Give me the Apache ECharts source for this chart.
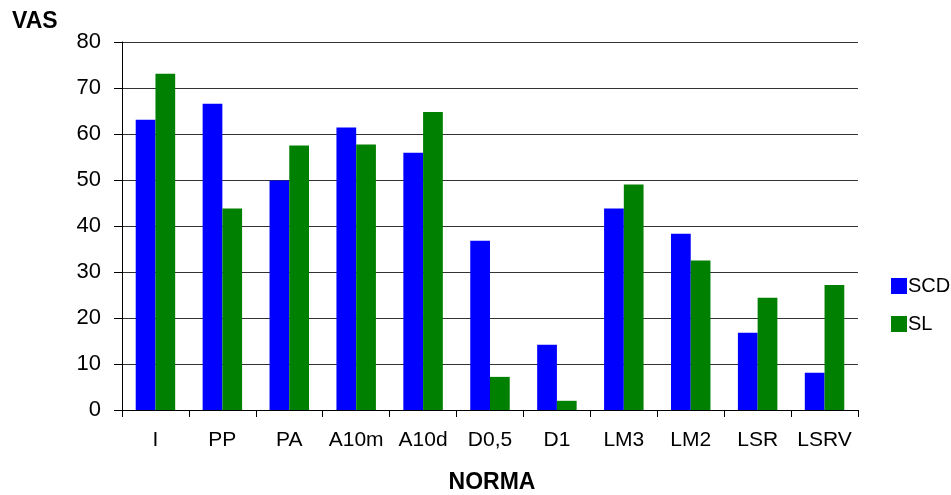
<!DOCTYPE html>
<html>
<head>
<meta charset="utf-8">
<script src="https://cdn.jsdelivr.net/npm/echarts@6/dist/echarts.min.js"></script>
<style>
  html, body { margin: 0; padding: 0; background: #fff; }
  #chart { width: 951px; height: 495px; }
</style>
</head>
<body>
<div id="chart"></div>
<script>
// Categories and VAS scores per group
const categories = ['I', 'PP', 'PA', 'A10m', 'A10d', 'D0,5', 'D1', 'LM3', 'LM2', 'LSR', 'LSRV'];
const scdValues = [63.1, 66.6, 49.9, 61.4, 55.9, 36.8, 14.2, 43.8, 38.3, 16.8, 8.1];
const slValues  = [73.1, 43.8, 57.5, 57.7, 64.8, 7.2, 2.0, 49.0, 32.5, 24.4, 27.2];
const yTicks = [0, 10, 20, 30, 40, 50, 60, 70, 80];

const chart = echarts.init(document.getElementById('chart'), null, { renderer: 'canvas' });
const font = 'Liberation Sans, Arial, sans-serif';

chart.setOption({
  animation: false,
  backgroundColor: '#ffffff',
  textStyle: { fontFamily: font },
  grid: { left: 122, right: 93, top: 42, bottom: 85, containLabel: false },
  legend: {
    orient: 'vertical',
    left: 886,
    top: 271,
    itemWidth: 16,
    itemHeight: 16,
    itemGap: 18,
    icon: 'rect',
    textStyle: { fontFamily: font, fontSize: 20, color: '#000', padding: [0, 0, 6, -4] },
    data: ['SCD', 'SL']
  },
  graphic: [
    { type: 'text', x: 12, y: 10, style: { text: 'VAS', font: 'bold 23px ' + font, fill: '#000', textAlign: 'left', textVerticalAlign: 'top' } },
    { type: 'text', x: 492, y: 471, style: { text: 'NORMA', font: 'bold 23px ' + font, fill: '#000', textAlign: 'center', textVerticalAlign: 'top' } }
  ],
  xAxis: {
    type: 'category',
    data: categories,
    axisLine: { lineStyle: { color: '#000', width: 1 } },
    axisTick: { show: true, alignWithLabel: false, length: 7, lineStyle: { color: '#000' } },
    axisLabel: { fontFamily: font, fontSize: 21, color: '#000', margin: 20, interval: 0 }
  },
  yAxis: {
    type: 'value',
    min: yTicks[0],
    max: yTicks[yTicks.length - 1],
    interval: 10,
    axisLine: { show: true, lineStyle: { color: '#000', width: 1 } },
    axisTick: { show: true, length: 8, lineStyle: { color: '#000' } },
    axisLabel: { fontFamily: font, fontSize: 22, color: '#000', margin: 21, verticalAlign: 'middle', padding: [0, 0, 5, 0] },
    splitLine: { show: true, lineStyle: { color: '#333', width: 1 } }
  },
  series: [
    {
      name: 'SCD',
      type: 'bar',
      data: scdValues,
      itemStyle: { color: '#0000ff' },
      barGap: '0%',
      barCategoryGap: '41%'
    },
    {
      name: 'SL',
      type: 'bar',
      data: slValues,
      itemStyle: { color: '#008000' },
      barGap: '0%',
      barCategoryGap: '41%'
    }
  ]
});
</script>
</body>
</html>
